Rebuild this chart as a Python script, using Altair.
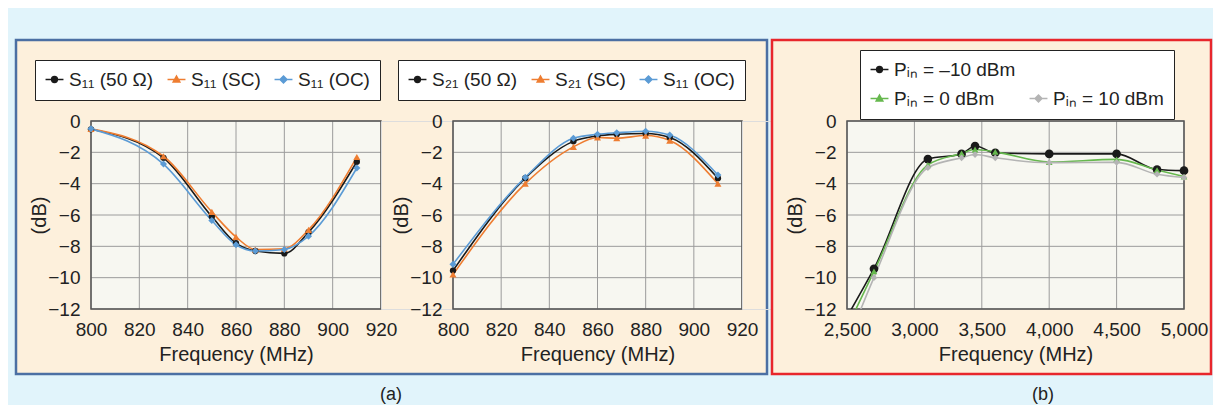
import altair as alt
import pandas as pd

# ---------------- data ----------------
freq_a = [800, 830, 850, 860, 868, 880, 890, 910]
s11_50 = [-0.53, -2.35, -6.1, -7.8, -8.3, -8.45, -7.1, -2.6]
s11_sc = [-0.5, -2.25, -5.8, -7.4, -8.2, -8.15, -6.95, -2.3]
s11_oc = [-0.5, -2.75, -6.35, -7.9, -8.3, -8.2, -7.35, -3.0]
s21_50 = [-9.55, -3.65, -1.3, -0.95, -0.85, -0.8, -1.05, -3.65]
s21_sc = [-9.8, -4.0, -1.65, -1.05, -1.1, -0.93, -1.25, -4.0]
s21_oc = [-9.15, -3.6, -1.1, -0.85, -0.75, -0.65, -0.9, -3.45]

freq_b = [2500, 2700, 3100, 3350, 3450, 3600, 4000, 4500, 4800, 5000]
p_m10 = [-12.5, -9.43, -2.43, -2.1, -1.6, -2.03, -2.1, -2.1, -3.1, -3.17]
p_0 = [-13.2, -9.6, -2.8, -2.07, -1.82, -1.97, -2.62, -2.45, -3.13, -3.55]
p_10 = [-14.2, -10.0, -2.98, -2.35, -2.14, -2.35, -2.66, -2.64, -3.4, -3.6]

names_a1 = ["S₁₁ (50 Ω)", "S₁₁ (SC)", "S₁₁ (OC)"]
names_a2 = ["S₂₁ (50 Ω)", "S₂₁ (SC)", "S₁₁ (OC)"]
names_b = ["Pᵢₙ = –10 dBm", "blank", "Pᵢₙ = 0 dBm", "Pᵢₙ = 10 dBm"]

yticks = [-12, -10, -8, -6, -4, -2, 0]
xticks_a = [800, 820, 840, 860, 880, 900, 920]
xticks_b = [2500, 3000, 3500, 4000, 4500, 5000]

# ---------------- styles ----------------
FONT = "Liberation Sans"
BG = "#e1f4fb"
BEIGE = "#fdf0dc"
PLOT_BG = "#f7f7f1"
GRID = "#9c9c9c"
TXT = "#222222"

cols_a = ["#1a1a1a", "#ee7d31", "#5b9bd5"]
cols_b = ["#1a1a1a", "#ffffff", "#66b84e", "#b4b4b4"]
shapes_a = ["circle", "triangle-up", "diamond"]
shapes_b = ["circle", "circle", "triangle-up", "diamond"]
sizes_a = [40, 50, 50]
sizes_b = [75, 0, 45, 45]

LINE = "M-1.3,0L1.3,0"
P_CIRC = LINE + "M0.42,0A0.42,0.42,0,1,1,-0.42,0A0.42,0.42,0,1,1,0.42,0Z"
P_TRI = LINE + "M0,-0.5L0.48,0.35L-0.48,0.35Z"
P_DIA = LINE + "M0,-0.5L0.5,0L0,0.5L-0.5,0Z"
paths_a = [P_CIRC, P_TRI, P_DIA]
paths_b = [P_CIRC, "M0,0", P_TRI, P_DIA]

W1, W2, W3, H = 290, 289, 337, 188


def long_df(xs, ys_list, names):
    rows = []
    for n, ys in zip(names, ys_list):
        for x, y in zip(xs, ys):
            rows.append({"f": x, "v": y, "s": n})
    return pd.DataFrame(rows)


def one():
    return pd.DataFrame({"a": [0]})


def rect(x, x2, y, y2, fill, stroke="transparent", sw=0):
    return alt.Chart(one()).mark_rect(fill=fill, stroke=stroke, strokeWidth=sw).encode(
        x=alt.value(x), x2=alt.value(x2), y=alt.value(y), y2=alt.value(y2))


def label(x, y, txt):
    return alt.Chart(one()).mark_text(text=txt, font=FONT, fontSize=18, color=TXT,
                                      align="center", baseline="alphabetic").encode(
        x=alt.value(x), y=alt.value(y))


def chain(names, vals):
    expr = "'" + vals[-1] + "'"
    for n, v in zip(reversed(names[:-1]), reversed(vals[:-1])):
        expr = "datum.value === '" + n + "' ? '" + v + "' : " + expr
    return expr


def make_legend(names, colors, paths, lx, ly, cols):
    fills = [("transparent" if n == "blank" else c) for n, c in zip(names, colors)]
    return alt.Legend(
        title=None, orient="none", legendX=lx, legendY=ly, direction="horizontal",
        columns=cols, gridAlign="none", fillColor="white", strokeColor="#222222",
        padding=10, labelFont=FONT, labelFontSize=19, labelColor=TXT, labelOffset=5,
        columnPadding=10, rowPadding=9, symbolSize=190, zindex=1, symbolOpacity=1,
        symbolStrokeWidth=1.5,
        labelExpr="datum.value === 'blank' ? '' : datum.label",
        symbolType={"expr": chain(names, paths)},
        symbolFillColor={"expr": chain(names, fills)},
        symbolStrokeColor={"expr": chain(names, fills)},
    )


def panel(df, names, colors, shapes, sizes, paths, xdom, xticks, xfmt, w,
          lx, ly, lcols, before, after, pfilter=None):
    xax = alt.Axis(values=xticks, format=xfmt, title="Frequency (MHz)", grid=False, ticks=False,
                   domain=False, labelPadding=11, labelFlush=False, labelFont=FONT,
                   labelFontSize=19, labelColor=TXT, titleFont=FONT, titleFontSize=20,
                   titleFontWeight="normal", titleColor=TXT, titleY=51,
                   titleBaseline="alphabetic", zindex=1)
    yax = alt.Axis(values=yticks, title="(dB)", grid=False, ticks=False, domain=False,
                   labelPadding=11, labelFlush=False, labelFont=FONT, labelFontSize=19,
                   labelColor=TXT, titleFont=FONT, titleFontSize=20, titleFontWeight="normal",
                   titleColor=TXT, titleX=-52, titleY=H / 2, titleBaseline="middle",
                   titleAngle=270, titleAlign="center", zindex=1)
    xs = alt.Scale(domain=xdom, nice=False, zero=False)
    ys = alt.Scale(domain=[-12, 0], nice=False, zero=False)
    X = alt.X("f:Q", scale=xs, axis=xax)
    Y = alt.Y("v:Q", scale=ys, axis=yax)
    leg = make_legend(names, colors, paths, lx, ly, lcols)
    cscale = alt.Scale(domain=names, range=colors)

    gx = alt.Chart(pd.DataFrame({"f": xticks})).mark_rule(color=GRID, strokeWidth=1).encode(x=X)
    gy = alt.Chart(pd.DataFrame({"v": yticks})).mark_rule(color=GRID, strokeWidth=1).encode(y=Y)
    border = rect(0, w, 0, H, "transparent", "#555555", 1.5)
    plotbg = rect(0, w, 0, H, PLOT_BG)

    lines = alt.Chart(df).mark_line(strokeWidth=1.6, interpolate="monotone", clip=True).encode(
        x=X, y=Y, color=alt.Color("s:N", scale=cscale, legend=leg), order="f:Q")
    pts = []
    for n, c, sh, sz in zip(names, colors, shapes, sizes):
        if n == "blank":
            continue
        base = alt.Chart(df).transform_filter(alt.datum.s == n)
        if pfilter:
            base = base.transform_filter(pfilter)
        pts.append(base.mark_point(filled=True, opacity=1, shape=sh, size=sz, color=c).encode(x=X, y=Y))
    return alt.layer(*before, plotbg, gx, gy, border, lines, *pts, *after).properties(width=w, height=H)


df1 = long_df(freq_a, [s11_50, s11_sc, s11_oc], names_a1)
df2 = long_df(freq_a, [s21_50, s21_sc, s21_oc], names_a2)
df3 = long_df(freq_b, [p_m10, p_0, p_10], [names_b[0], names_b[2], names_b[3]])

c1 = panel(df1, names_a1, cols_a, shapes_a, sizes_a, paths_a, [800, 920], xticks_a, "d", W1,
           -56, -61, 3,
           before=[rect(-82, 1121, -112, 279, BG), rect(-75, 676, -81, 253, BEIGE, "#4b6fa3", 2.5)],
           after=[label(300, 279, "(a)")])
c2 = panel(df2, names_a2, cols_a, shapes_a, sizes_a, paths_a, [800, 920], xticks_a, "d", W2,
           -55, -61, 3, before=[], after=[])
c3 = panel(df3, names_b, cols_b, shapes_b, sizes_b, paths_b, [2500, 5000], xticks_b, ",.0f", W3,
           13, -71, 2,
           before=[rect(-75, 364, -81, 253, BEIGE, "#e8262c", 2.5)],
           after=[label(196, 279, "(b)")],
           pfilter="datum.f >= 2700")


def spacer(w):
    return alt.Chart(one()).mark_point(opacity=0).encode(
        x=alt.value(0), y=alt.value(0)).properties(width=w, height=H)


chart = alt.hconcat(c1, spacer(72), c2, spacer(105), c3, spacing=0, bounds="flush").resolve_scale(
    x="independent", y="independent", color="independent"
).resolve_legend(color="independent").properties(
    padding=0, background=BG
).configure_view(stroke="transparent").configure(font=FONT)

chart.save("out.html", embed_options={"renderer": "svg", "actions": False})
